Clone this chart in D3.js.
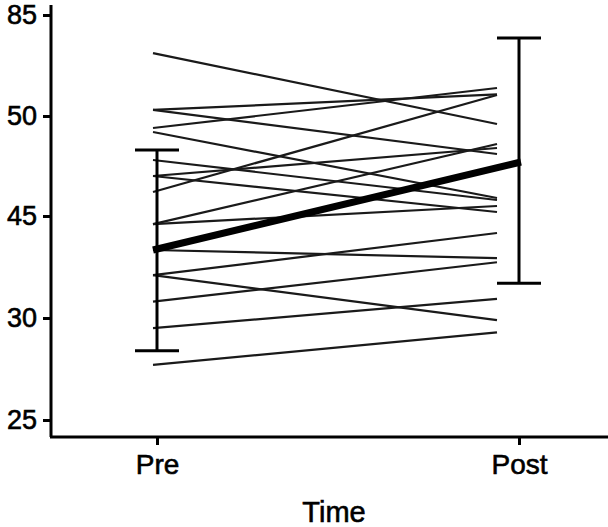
<!DOCTYPE html>
<html>
<head>
<meta charset="UTF-8">
<script src="https://cdn.jsdelivr.net/npm/d3@7"></script>
<style>
  body { margin: 0; background: #fff; }
  svg { display: block; }
  text { font-family: "Liberation Sans", Arial, sans-serif; }
</style>
</head>
<body>
<div id="chart"></div>
<script>
// time points
var times = ["Pre", "Post"];
// y axis tick labels (the axis is not evenly scaled)
var yTicks = [25, 30, 45, 50, 85];
// one value per subject, pre and post
var preVals  = [71.8, 52.1, 52.1, 49.4, 49.2, 47.8, 47.0, 47.0, 46.2, 43.8, 43.8, 40.0, 36.3, 36.3, 32.4, 29.5, 27.7];
var postVals = [49.6, 57.5, 48.1, 59.7, 45.9, 45.8, 48.4, 45.2, 57.3, 48.6, 45.5, 38.8, 42.5, 29.9, 38.2, 32.8, 29.3];
// group mean and error bar limits
var means  = [40.0, 47.7];
var lowers = [28.4, 35.1];
var uppers = [48.3, 77.0];

var W = 608, H = 527;
var svg = d3.select("#chart").append("svg").attr("width", W).attr("height", H);

var x = d3.scalePoint().domain(times).range([157, 519]);
// piecewise scale so that the ticks sit evenly as in the picture
var y = d3.scaleLinear().domain(yTicks).range([420, 318, 216, 116, 15]);

// individual subjects
var pairs = preVals.map(function(d, i) { return [d, postVals[i]]; });
svg.append("g").selectAll("line")
  .data(pairs)
  .enter().append("line")
  .attr("x1", x("Pre") - 4)
  .attr("x2", x("Post") - 22)
  .attr("y1", function(d) { return y(d[0]); })
  .attr("y2", function(d) { return y(d[1]); })
  .attr("stroke", "#1a1a1a")
  .attr("stroke-width", 2.2);

// error bars
var eb = svg.append("g");
times.forEach(function(t, i) {
  eb.append("line").attr("x1", x(t)).attr("x2", x(t))
    .attr("y1", y(lowers[i])).attr("y2", y(uppers[i]))
    .attr("stroke", "#000").attr("stroke-width", 3);
  [lowers[i], uppers[i]].forEach(function(v) {
    eb.append("line").attr("x1", x(t) - 22).attr("x2", x(t) + 22)
      .attr("y1", y(v)).attr("y2", y(v))
      .attr("stroke", "#000").attr("stroke-width", 3);
  });
});

// mean line
svg.append("line")
  .attr("x1", x("Pre") - 4).attr("x2", x("Post") + 2)
  .attr("y1", y(means[0])).attr("y2", y(means[1]))
  .attr("stroke", "#000").attr("stroke-width", 7);

// axes
var yAxis = svg.append("g").attr("transform", "translate(51,0)")
  .call(d3.axisLeft(y).tickValues(yTicks).tickSize(8).tickPadding(6));
yAxis.select(".domain").attr("d", "M0,5V437");
var xAxis = svg.append("g").attr("transform", "translate(0,437)")
  .call(d3.axisBottom(x).tickSize(8).tickPadding(9));
xAxis.select(".domain").attr("d", "M50,0H608");

svg.selectAll(".domain").attr("stroke", "#000").attr("stroke-width", 3);
svg.selectAll(".tick line").attr("stroke", "#000").attr("stroke-width", 3);
svg.selectAll(".tick text")
  .attr("fill", "#000").attr("stroke", "#000").attr("stroke-width", 0.6)
  .style("font-family", "Liberation Sans, Arial, sans-serif");
yAxis.selectAll(".tick text").attr("font-size", 27);
xAxis.selectAll(".tick text").attr("font-size", 28);

svg.append("text")
  .attr("x", 334).attr("y", 522)
  .attr("text-anchor", "middle")
  .attr("font-size", 29)
  .attr("stroke", "#000").attr("stroke-width", 0.6)
  .text("Time");
</script>
</body>
</html>
